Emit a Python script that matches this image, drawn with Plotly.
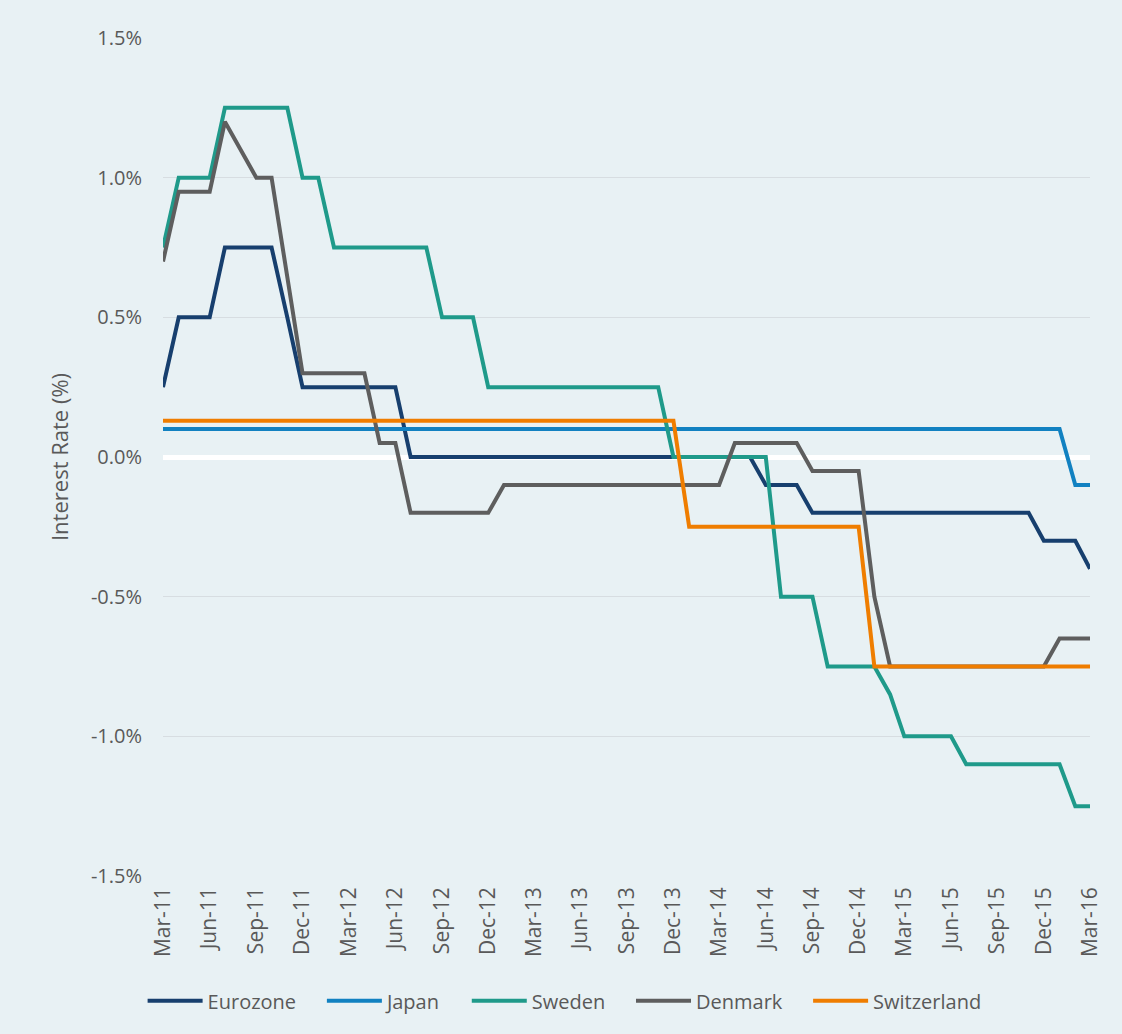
import pandas as pd
import plotly.graph_objects as go

months = pd.date_range("2011-03-01", periods=61, freq="MS")

eurozone = [0.25, 0.5, 0.5, 0.5, 0.75, 0.75, 0.75, 0.75, 0.5, 0.25,
            0.25, 0.25, 0.25, 0.25, 0.25, 0.25, 0.0, 0.0, 0.0, 0.0,
            0.0, 0.0, 0.0, 0.0, 0.0, 0.0, 0.0, 0.0, 0.0, 0.0,
            0.0, 0.0, 0.0, 0.0, 0.0, 0.0, 0.0, 0.0, 0.0, -0.1,
            -0.1, -0.1, -0.2, -0.2, -0.2, -0.2, -0.2, -0.2, -0.2, -0.2,
            -0.2, -0.2, -0.2, -0.2, -0.2, -0.2, -0.2, -0.3, -0.3, -0.3,
            -0.4]
japan = [0.1, 0.1, 0.1, 0.1, 0.1, 0.1, 0.1, 0.1, 0.1, 0.1,
         0.1, 0.1, 0.1, 0.1, 0.1, 0.1, 0.1, 0.1, 0.1, 0.1,
         0.1, 0.1, 0.1, 0.1, 0.1, 0.1, 0.1, 0.1, 0.1, 0.1,
         0.1, 0.1, 0.1, 0.1, 0.1, 0.1, 0.1, 0.1, 0.1, 0.1,
         0.1, 0.1, 0.1, 0.1, 0.1, 0.1, 0.1, 0.1, 0.1, 0.1,
         0.1, 0.1, 0.1, 0.1, 0.1, 0.1, 0.1, 0.1, 0.1, -0.1,
         -0.1]
sweden = [0.75, 1.0, 1.0, 1.0, 1.25, 1.25, 1.25, 1.25, 1.25, 1.0,
          1.0, 0.75, 0.75, 0.75, 0.75, 0.75, 0.75, 0.75, 0.5, 0.5,
          0.5, 0.25, 0.25, 0.25, 0.25, 0.25, 0.25, 0.25, 0.25, 0.25,
          0.25, 0.25, 0.25, 0.0, 0.0, 0.0, 0.0, 0.0, 0.0, 0.0,
          -0.5, -0.5, -0.5, -0.75, -0.75, -0.75, -0.75, -0.85, -1.0, -1.0,
          -1.0, -1.0, -1.1, -1.1, -1.1, -1.1, -1.1, -1.1, -1.1, -1.25,
          -1.25]
denmark = [0.7, 0.95, 0.95, 0.95, 1.2, 1.1, 1.0, 1.0, 0.65, 0.3,
           0.3, 0.3, 0.3, 0.3, 0.05, 0.05, -0.2, -0.2, -0.2, -0.2,
           -0.2, -0.2, -0.1, -0.1, -0.1, -0.1, -0.1, -0.1, -0.1, -0.1,
           -0.1, -0.1, -0.1, -0.1, -0.1, -0.1, -0.1, 0.05, 0.05, 0.05,
           0.05, 0.05, -0.05, -0.05, -0.05, -0.05, -0.5, -0.75, -0.75, -0.75,
           -0.75, -0.75, -0.75, -0.75, -0.75, -0.75, -0.75, -0.75, -0.65, -0.65,
           -0.65]
switzerland = [0.13, 0.13, 0.13, 0.13, 0.13, 0.13, 0.13, 0.13, 0.13, 0.13,
               0.13, 0.13, 0.13, 0.13, 0.13, 0.13, 0.13, 0.13, 0.13, 0.13,
               0.13, 0.13, 0.13, 0.13, 0.13, 0.13, 0.13, 0.13, 0.13, 0.13,
               0.13, 0.13, 0.13, 0.13, -0.25, -0.25, -0.25, -0.25, -0.25, -0.25,
               -0.25, -0.25, -0.25, -0.25, -0.25, -0.25, -0.75, -0.75, -0.75, -0.75,
               -0.75, -0.75, -0.75, -0.75, -0.75, -0.75, -0.75, -0.75, -0.75, -0.75,
               -0.75]

series_names = ["Eurozone", "Japan", "Sweden", "Denmark", "Switzerland"]
series_values = [eurozone, japan, sweden, denmark, switzerland]
series_colors = ["#173F6E", "#1181C1", "#1F9A8A", "#5E5E5E", "#EF7D00"]

y_tickvals = [1.5, 1.0, 0.5, 0.0, -0.5, -1.0, -1.5]
y_ticktext = ["1.5%", "1.0%", "0.5%", "0.0%", "-0.5%", "-1.0%", "-1.5%"]

BG = "#E8F1F4"
TXT = "#595959"
FONT = "Open Sans"
PAD = "\u00a0" * 4  # spacing after each legend entry

fig = go.Figure()
for name, vals, col in zip(series_names, series_values, series_colors):
    fig.add_trace(go.Scatter(
        x=months, y=vals, name=name + PAD, mode="lines",
        line=dict(color=col, width=4),
    ))

fig.update_layout(
    width=1122, height=1034,
    paper_bgcolor=BG, plot_bgcolor=BG,
    margin=dict(l=163, r=32, t=38, b=158),
    font=dict(family=FONT, color=TXT, size=20),
    showlegend=True,
    legend=dict(
        orientation="h", x=-0.022, xanchor="left", y=-0.149, yanchor="middle",
        font=dict(family=FONT, size=20, color=TXT),
        bgcolor="rgba(0,0,0,0)", itemwidth=55, tracegroupgap=0,
    ),
)
fig.update_xaxes(
    range=[months[0], months[-1]],
    tickformat="%b-%y", dtick="M3", tick0="2011-03-01",
    tickangle=-90, showgrid=False, zeroline=False, showline=False,
    ticks="", tickfont=dict(family=FONT, size=21, color=TXT),
    ticklabelstandoff=6,
)
fig.update_yaxes(
    range=[-1.5, 1.5], tickvals=y_tickvals, ticktext=y_ticktext,
    showgrid=True, gridcolor="#D7DDE1", gridwidth=1,
    zeroline=True, zerolinecolor="#FFFFFF", zerolinewidth=5,
    showline=False, ticks="",
    tickfont=dict(family=FONT, size=20, color=TXT),
    ticklabelstandoff=20,
    title=dict(text="Interest Rate (%)", font=dict(family=FONT, size=22, color=TXT), standoff=16),
)

fig.write_html("out.html")
